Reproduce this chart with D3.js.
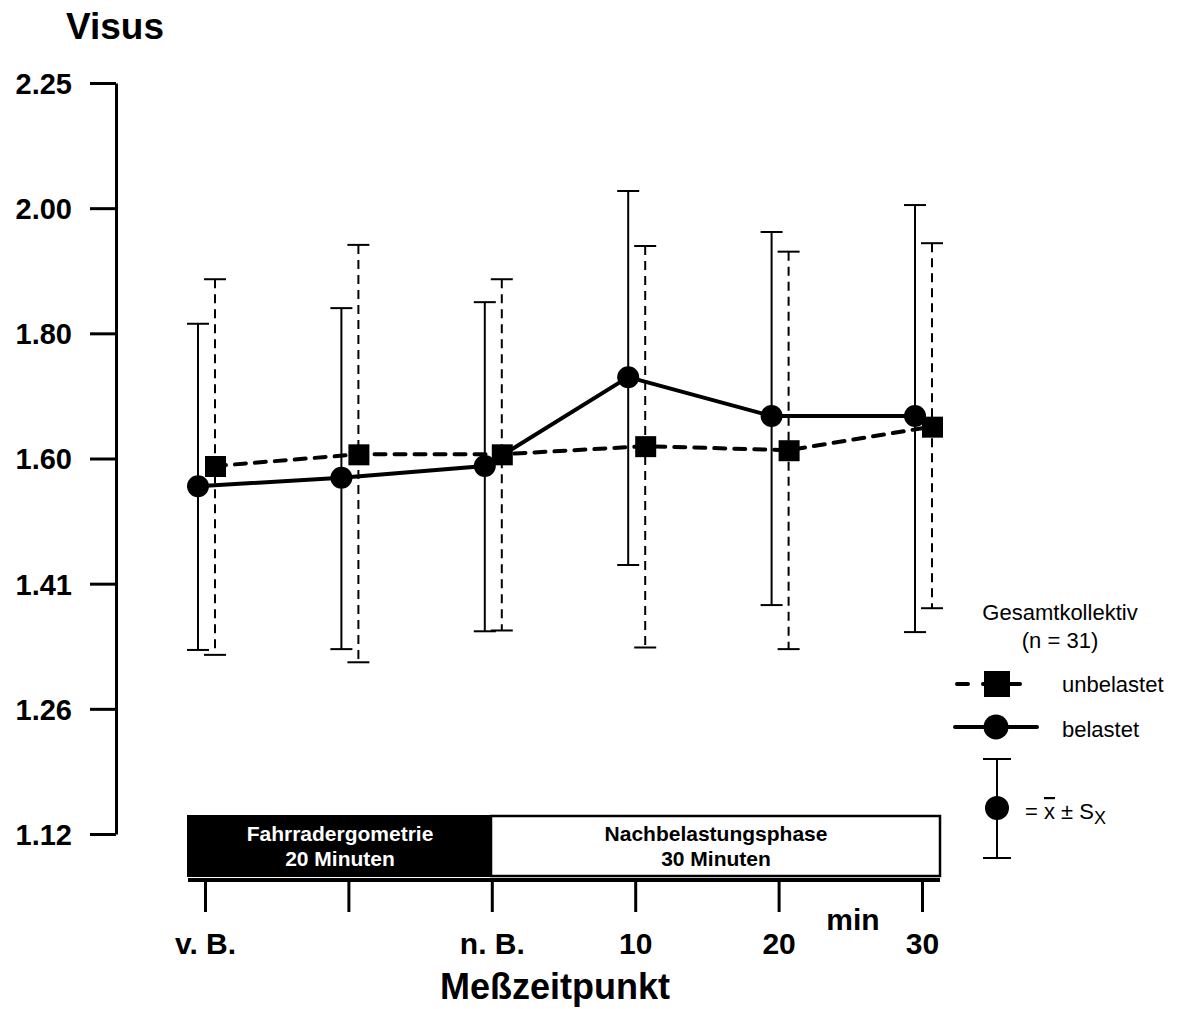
<!DOCTYPE html>
<html>
<head>
<meta charset="utf-8">
<script src="https://cdn.jsdelivr.net/npm/d3@7"></script>
<style>
  body { margin: 0; background: #fff; }
  text { font-family: "Liberation Sans", Arial, sans-serif; }
</style>
</head>
<body>
<div id="chart"></div>
<script>
// measurement points (second one has no label)
const timeLabels = ["v. B.", "", "n. B.", "10", "20", "30"];
// y ticks: log-spaced visus steps
const yTickValues = [1, 2, 3, 4, 5, 6, 7].map(k => Math.pow(10, 0.05 * k));
const yTickLabels = ["1.12", "1.26", "1.41", "1.60", "1.80", "2.00", "2.25"];

// belastet (circles, solid)
const belMean = [1.545, 1.557, 1.574, 1.708, 1.648, 1.648];
const belUpper = [1.794, 1.820, 1.830, 2.027, 1.952, 2.001];
const belLower = [1.329, 1.330, 1.352, 1.437, 1.385, 1.351];
// unbelastet (squares, dashed)
const unbMean = [1.574, 1.591, 1.591, 1.603, 1.597, 1.632];
const unbUpper = [1.869, 1.929, 1.869, 1.927, 1.917, 1.932];
const unbLower = [1.323, 1.314, 1.353, 1.332, 1.330, 1.381];

const width = 1179, height = 1009;
const svg = d3.select("#chart").append("svg")
    .attr("width", width).attr("height", height);

const x = d3.scaleLinear().domain([0, 5]).range([205, 922]);
const y = d3.scaleLog().domain([Math.pow(10, 0.05), Math.pow(10, 0.35)]).range([834, 83]);

// y axis
const yAxis = svg.append("g")
    .attr("transform", "translate(116,0)")
    .call(d3.axisLeft(y).tickValues(yTickValues).tickSize(26).tickSizeOuter(0)
        .tickFormat((d, i) => yTickLabels[i]));
yAxis.select(".domain").attr("stroke-width", 3);
yAxis.selectAll(".tick line").attr("stroke-width", 3);
yAxis.selectAll(".tick text")
    .attr("x", -44).attr("dy", "0.36em")
    .attr("font-size", 29).attr("font-weight", "bold")
    .attr("font-family", "Liberation Sans, Arial, sans-serif").attr("fill", "#000");

svg.append("text").attr("x", 66).attr("y", 39)
    .attr("font-size", 37).attr("font-weight", "bold").text("Visus");

// phase boxes
svg.append("rect").attr("x", 188).attr("y", 816).attr("width", 303).attr("height", 60)
    .attr("fill", "#000").attr("stroke", "#000").attr("stroke-width", 2);
svg.append("rect").attr("x", 491).attr("y", 816).attr("width", 449).attr("height", 60)
    .attr("fill", "#fff").attr("stroke", "#000").attr("stroke-width", 2.5);
const phase = [
  {cx: 340, l1: "Fahrradergometrie", l2: "20 Minuten", c: "#fff"},
  {cx: 716, l1: "Nachbelastungsphase", l2: "30 Minuten", c: "#000"}
];
phase.forEach(p => {
  svg.append("text").attr("x", p.cx).attr("y", 841).attr("text-anchor", "middle")
      .attr("font-size", 21).attr("font-weight", "bold").attr("fill", p.c).text(p.l1);
  svg.append("text").attr("x", p.cx).attr("y", 866).attr("text-anchor", "middle")
      .attr("font-size", 21).attr("font-weight", "bold").attr("fill", p.c).text(p.l2);
});

// x axis
const xAxis = svg.append("g")
    .attr("transform", "translate(0,880)")
    .call(d3.axisBottom(x).tickValues([0, 1, 2, 3, 4, 5]).tickSize(32).tickSizeOuter(0)
        .tickFormat(i => timeLabels[i]));
xAxis.select(".domain").attr("d", "M188,0H940").attr("stroke-width", 4);
xAxis.selectAll(".tick line").attr("stroke-width", 3);
xAxis.selectAll(".tick text")
    .attr("y", 53).attr("dy", "0.71em")
    .attr("font-size", 30).attr("font-weight", "bold")
    .attr("font-family", "Liberation Sans, Arial, sans-serif").attr("fill", "#000");

svg.append("text").attr("x", 853).attr("y", 930).attr("text-anchor", "middle")
    .attr("font-size", 30).attr("font-weight", "bold").text("min");
svg.append("text").attr("x", 555).attr("y", 999).attr("text-anchor", "middle")
    .attr("font-size", 36).attr("font-weight", "bold").text("Meßzeitpunkt");

// series
const series = [
  {mean: belMean, up: belUpper, lo: belLower, dx: -7, dash: null, barDash: null, shape: "circle"},
  {mean: unbMean, up: unbUpper, lo: unbLower, dx: 10, dash: "11,9", barDash: "9,6", shape: "square"}
];

series.forEach(s => {
  const g = svg.append("g");
  const px = i => x(i) + s.dx;
  // error bars
  s.mean.forEach((m, i) => {
    g.append("line").attr("x1", px(i)).attr("x2", px(i))
        .attr("y1", y(s.up[i])).attr("y2", y(s.lo[i]))
        .attr("stroke", "#000").attr("stroke-width", 2)
        .attr("stroke-dasharray", s.barDash);
    [s.up[i], s.lo[i]].forEach(v => {
      g.append("line").attr("x1", px(i) - 11).attr("x2", px(i) + 11)
          .attr("y1", y(v)).attr("y2", y(v))
          .attr("stroke", "#000").attr("stroke-width", 2);
    });
  });
});

series.forEach(s => {
  const px = i => x(i) + s.dx;
  const line = d3.line().x((d, i) => px(i)).y(d => y(d));
  svg.append("path").datum(s.mean).attr("d", line)
      .attr("fill", "none").attr("stroke", "#000").attr("stroke-width", 4)
      .attr("stroke-dasharray", s.dash).attr("stroke-linecap", s.dash ? "round" : "butt");
  if (s.shape === "circle") {
    svg.selectAll(null).data(s.mean).enter().append("circle")
        .attr("cx", (d, i) => px(i)).attr("cy", d => y(d)).attr("r", 11).attr("fill", "#000");
  } else {
    svg.selectAll(null).data(s.mean).enter().append("rect")
        .attr("x", (d, i) => px(i) - 10).attr("y", d => y(d) - 10)
        .attr("width", 21).attr("height", 21).attr("fill", "#000");
  }
});

// legend
const lg = svg.append("g").attr("font-size", 22);
lg.append("text").attr("x", 1060).attr("y", 620).attr("text-anchor", "middle").text("Gesamtkollektiv");
lg.append("text").attr("x", 1060).attr("y", 648).attr("text-anchor", "middle").text("(n = 31)");

lg.append("line").attr("x1", 957).attr("x2", 1020).attr("y1", 684).attr("y2", 684)
    .attr("stroke", "#000").attr("stroke-width", 4).attr("stroke-dasharray", "11,15")
    .attr("stroke-linecap", "round");
lg.append("rect").attr("x", 984).attr("y", 671).attr("width", 26).attr("height", 26).attr("fill", "#000");
lg.append("text").attr("x", 1062).attr("y", 692).text("unbelastet");

lg.append("line").attr("x1", 955).attr("x2", 1037).attr("y1", 727).attr("y2", 727)
    .attr("stroke", "#000").attr("stroke-width", 4).attr("stroke-linecap", "round");
lg.append("circle").attr("cx", 996).attr("cy", 727).attr("r", 12.5).attr("fill", "#000");
lg.append("text").attr("x", 1062).attr("y", 737).text("belastet");

lg.append("line").attr("x1", 997).attr("x2", 997).attr("y1", 759).attr("y2", 858)
    .attr("stroke", "#000").attr("stroke-width", 2);
[759, 858].forEach(v => lg.append("line").attr("x1", 983).attr("x2", 1011)
    .attr("y1", v).attr("y2", v).attr("stroke", "#000").attr("stroke-width", 2));
lg.append("circle").attr("cx", 997).attr("cy", 808).attr("r", 12).attr("fill", "#000");
const eq = lg.append("text").attr("x", 1025).attr("y", 819);
eq.append("tspan").text("= ");
eq.append("tspan").attr("text-decoration", "overline").text("x");
eq.append("tspan").text(" ± S");
eq.append("tspan").attr("dy", 5).attr("font-size", 18).text("X");
</script>
</body>
</html>
